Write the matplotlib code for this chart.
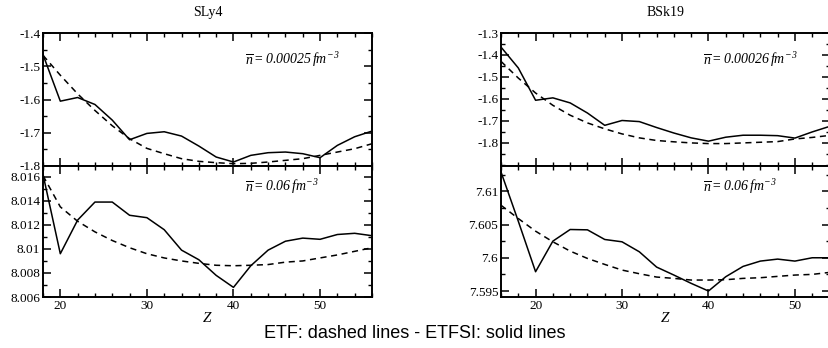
import matplotlib
matplotlib.use('Agg')
import matplotlib.pyplot as plt
from matplotlib.ticker import MultipleLocator, FixedLocator, FixedFormatter

plt.rcParams['font.family'] = ['Liberation Serif', 'DejaVu Serif']
plt.rcParams['mathtext.fontset'] = 'custom'
# annotations are fully italic in the original (digits too)
plt.rcParams['mathtext.rm'] = 'Liberation Serif:italic'
plt.rcParams['mathtext.it'] = 'Liberation Serif:italic'

# ── data ─────────────────────────────────────────────────────────────────────
Z_SLY4 = list(range(18, 57, 2))
Z_BSK19 = list(range(16, 55, 2))

sly4_low_etfsi = [-1.465, -1.605, -1.594, -1.615, -1.662, -1.721, -1.702, -1.697, -1.710, -1.740,
                  -1.773, -1.788, -1.768, -1.760, -1.758, -1.763, -1.775, -1.738, -1.712, -1.695]
sly4_low_etf = [-1.467, -1.527, -1.583, -1.633, -1.679, -1.718, -1.747, -1.763, -1.778, -1.786,
                -1.790, -1.793, -1.792, -1.788, -1.783, -1.778, -1.768, -1.758, -1.748, -1.733]

sly4_high_etfsi = [8.0162, 8.0096, 8.0124, 8.0139, 8.0139, 8.0128, 8.0126, 8.0116, 8.0099, 8.0091,
                   8.0078, 8.0068, 8.0086, 8.0099, 8.01064, 8.0109, 8.0108, 8.0112, 8.0113, 8.0111]
sly4_high_etf = [8.0161, 8.0135, 8.0123, 8.01142, 8.0107, 8.0101, 8.0096, 8.00925, 8.0090, 8.0088,
                 8.00864, 8.0086, 8.00864, 8.0087, 8.0089, 8.0090, 8.00925, 8.0095, 8.0098, 8.0101]

bsk19_low_etfsi = [-1.364, -1.459, -1.606, -1.595, -1.618, -1.664, -1.720, -1.698, -1.703, -1.730,
                   -1.755, -1.777, -1.792, -1.774, -1.765, -1.765, -1.767, -1.778, -1.750, -1.725]
bsk19_low_etf = [-1.429, -1.505, -1.573, -1.629, -1.674, -1.709, -1.736, -1.759, -1.777, -1.789,
                 -1.795, -1.800, -1.803, -1.803, -1.800, -1.797, -1.794, -1.782, -1.775, -1.766]

bsk19_high_etfsi = [7.6129, 7.6055, 7.5979, 7.6025, 7.60425, 7.6042, 7.60275, 7.6024, 7.6009, 7.5986,
                    7.5974, 7.59615, 7.5950, 7.59715, 7.5987, 7.5995, 7.5998, 7.5995, 7.6000, 7.6000]
bsk19_high_etf = [7.6079, 7.6059, 7.6040, 7.6024, 7.6010, 7.5999, 7.5990, 7.59815, 7.5976, 7.5971,
                  7.5969, 7.59665, 7.59665, 7.5967, 7.5969, 7.5970, 7.5972, 7.5974, 7.5975, 7.5978]

TITLES = ['SLy4', 'BSk19']
LABELS_LOW = [r'$\overline{n}{=}0.00025\,fm^{-3}$', r'$\overline{n}{=}0.00026\,fm^{-3}$']
LABEL_HIGH = r'$\overline{n}{=}0.06\,fm^{-3}$'

W, H = 829, 348
fig = plt.figure(figsize=(W / 100, H / 100), dpi=100)


def px_axes(x0, x1, y0, y1):
    return fig.add_axes([x0 / W, 1 - y1 / H, (x1 - x0) / W, (y1 - y0) / H])


def style(ax, xlim, ylim, yticks, ylabels, yminor, show_x):
    ax.set_xlim(*xlim)
    ax.set_ylim(*ylim)
    ax.xaxis.set_major_locator(MultipleLocator(10))
    ax.xaxis.set_minor_locator(MultipleLocator(2))
    ax.yaxis.set_major_locator(FixedLocator(yticks))
    ax.yaxis.set_major_formatter(FixedFormatter(ylabels))
    ax.yaxis.set_minor_locator(MultipleLocator(yminor))
    ax.tick_params(which='both', direction='in', top=True, right=True, labelsize=9.5, pad=2)
    ax.tick_params(which='major', length=6, width=1.1)
    ax.tick_params(which='minor', length=3, width=1.0)
    if not show_x:
        ax.tick_params(labelbottom=False)
    for s in ax.spines.values():
        s.set_linewidth(1.4)


panels = [
    dict(x0=43, x1=372, xlim=(18, 56), Z=Z_SLY4,
         low=(sly4_low_etfsi, sly4_low_etf), high=(sly4_high_etfsi, sly4_high_etf),
         ylim_low=(-1.8, -1.4), yt_low=[-1.8, -1.7, -1.6, -1.5, -1.4],
         yl_low=['-1.8', '-1.7', '-1.6', '-1.5', '-1.4'], ym_low=0.05,
         ylim_high=(8.006, 8.0169), yt_high=[8.006, 8.008, 8.010, 8.012, 8.014, 8.016],
         yl_high=['8.006', '8.008', '8.01', '8.012', '8.014', '8.016'], ym_high=0.001),
    dict(x0=501, x1=829.5, xlim=(16, 54), Z=Z_BSK19,
         low=(bsk19_low_etfsi, bsk19_low_etf), high=(bsk19_high_etfsi, bsk19_high_etf),
         ylim_low=(-1.905, -1.3), yt_low=[-1.8, -1.7, -1.6, -1.5, -1.4, -1.3],
         yl_low=['-1.8', '-1.7', '-1.6', '-1.5', '-1.4', '-1.3'], ym_low=0.05,
         ylim_high=(7.5941, 7.6138), yt_high=[7.595, 7.600, 7.605, 7.610],
         yl_high=['7.595', '7.6', '7.605', '7.61'], ym_high=0.0025),
]

for i, p in enumerate(panels):
    ax_top = px_axes(p['x0'], p['x1'], 33, 166)
    ax_bot = px_axes(p['x0'], p['x1'], 166, 297)

    ax_top.plot(p['Z'], p['low'][0], color='black', lw=1.1)
    ax_top.plot(p['Z'], p['low'][1], color='black', lw=1.1, ls=(0, (4, 3)))
    ax_bot.plot(p['Z'], p['high'][0], color='black', lw=1.1)
    ax_bot.plot(p['Z'], p['high'][1], color='black', lw=1.1, ls=(0, (4, 3)))

    style(ax_top, p['xlim'], p['ylim_low'], p['yt_low'], p['yl_low'], p['ym_low'], False)
    style(ax_bot, p['xlim'], p['ylim_high'], p['yt_high'], p['yl_high'], p['ym_high'], True)

    ax_top.set_title(TITLES[i], fontsize=10, pad=12)
    ax_top.text(0.615, 0.80, LABELS_LOW[i], transform=ax_top.transAxes,
                fontsize=10, va='center', ha='left')
    ax_bot.text(0.615, 0.84, LABEL_HIGH, transform=ax_bot.transAxes,
                fontsize=10, va='center', ha='left')
    ax_bot.set_xlabel('Z', fontsize=11, fontstyle='italic', labelpad=0)

fig.text(0.5, 1 - 333 / H, 'ETF: dashed lines - ETFSI: solid lines',
         family=['Liberation Sans', 'DejaVu Sans'], fontsize=13, ha='center', va='center')

fig.savefig('out.png', dpi=100)
